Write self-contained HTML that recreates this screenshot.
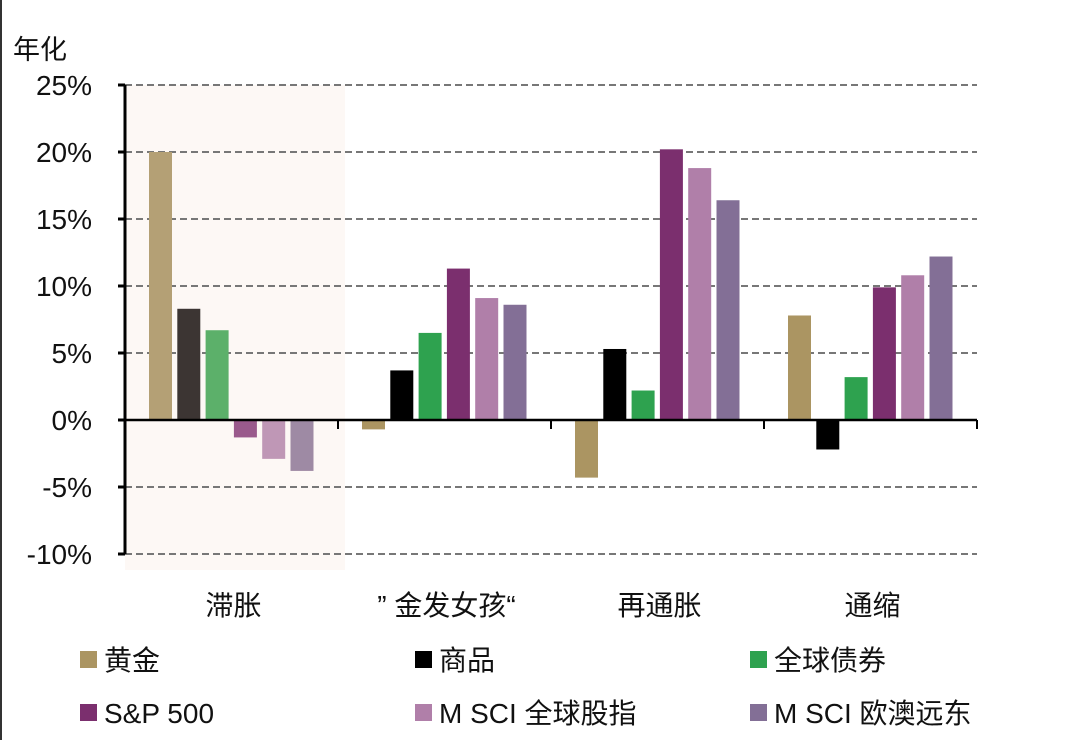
<!DOCTYPE html>
<html><head><meta charset="utf-8"><style>
body{margin:0;background:#fff;width:1080px;height:740px;overflow:hidden;font-family:"Liberation Sans","Noto Sans CJK SC",sans-serif}
</style></head><body>
<svg id="chart" width="1080" height="740" xmlns="http://www.w3.org/2000/svg" font-family="Liberation Sans, Noto Sans CJK SC, sans-serif">
<rect x="0" y="0" width="2" height="740" fill="#333"/>
<text x="13" y="59" font-size="27" fill="#111">年化</text>
<g id="g"></g>
</svg>
<script>
const categories=["滞胀","” 金发女孩“","再通胀","通缩"];
const seriesNames=["黄金","商品","全球债券","S&P 500","M SCI 全球股指","M SCI 欧澳远东"];
const gold=[20,-0.7,-4.3,7.8];
const commodity=[8.3,3.7,5.3,-2.2];
const bonds=[6.7,6.5,2.2,3.2];
const sp500=[-1.3,11.3,20.2,9.9];
const msciWorld=[-2.9,9.1,18.8,10.8];
const msciEafe=[-3.8,8.6,16.4,12.2];
const yTicks=[25,20,15,10,5,0,-5,-10];
const series=[gold,commodity,bonds,sp500,msciWorld,msciEafe];
const colors=["#ab9562","#000000","#2ea24f","#7b2f6e","#b07fa9","#836f96"];
const colorsShaded=["#b4a075","#3c3533","#5cb06a","#9a5a8c","#bf97b6","#9e8aa4"];
const NS="http://www.w3.org/2000/svg";
const g=document.getElementById('g');
const x0=125,x1=977,yTop=85,yBot=554;
const y=v=>420-(v)*13.4;
const gw=(x1-x0)/categories.length;
function el(t,a){const e=document.createElementNS(NS,t);for(const k in a)e.setAttribute(k,a[k]);g.appendChild(e);return e;}
let sh=el('rect',{x:x0,y:yTop,width:220,height:485,fill:'#fdf8f5'});


yTicks.forEach(t=>{
  if(t!==0){let l=el('line',{x1:x0,x2:x1,y1:y(t),y2:y(t),stroke:'#777','stroke-width':2,'stroke-dasharray':'7,4'});
  
  }
  let tk=el('line',{x1:x0-7,x2:x0,y1:y(t),y2:y(t),stroke:'#000','stroke-width':3});
  
  
  let tx=el('text',{x:92,y:y(t)+10,'font-size':28,'text-anchor':'end',fill:'#111'});
  tx.textContent=t+'%';
  
  
});
categories.forEach((c,i)=>{
  const gx=x0+i*gw;
  series.forEach((s,j)=>{
    const v=s[i];const bx=gx+24+j*28.3;
    let r=el('rect',{x:bx,y:Math.min(y(v),y(0)),width:23,height:Math.abs(y(v)-y(0)),fill:(i===0?colorsShaded:colors)[j]});
    
    
  });
  let tl=el('text',{x:gx+gw/2+2,y:615,'font-size':28,'text-anchor':'middle',fill:'#111'});
  tl.textContent=c;
  
  
  let tk=el('line',{x1:gx+gw,x2:gx+gw,y1:y(0),y2:y(0)+9,stroke:'#000','stroke-width':2});
  
  
});
let ya=el('line',{x1:x0,x2:x0,y1:yTop,y2:yBot,stroke:'#000','stroke-width':3});


let xa=el('line',{x1:x0,x2:x1,y1:y(0),y2:y(0),stroke:'#000','stroke-width':2.5});


seriesNames.forEach((n,j)=>{
  const lx=[80,415,750][j%3],ly=[660,713][Math.floor(j/3)];
  let s=el('rect',{x:lx,y:ly-9,width:17,height:17,fill:colors[j]});
  
  
  let t=el('text',{x:lx+24,y:ly+10,'font-size':28,fill:'#111'});
  t.textContent=n;
  
  
});
</script>
</body></html>
